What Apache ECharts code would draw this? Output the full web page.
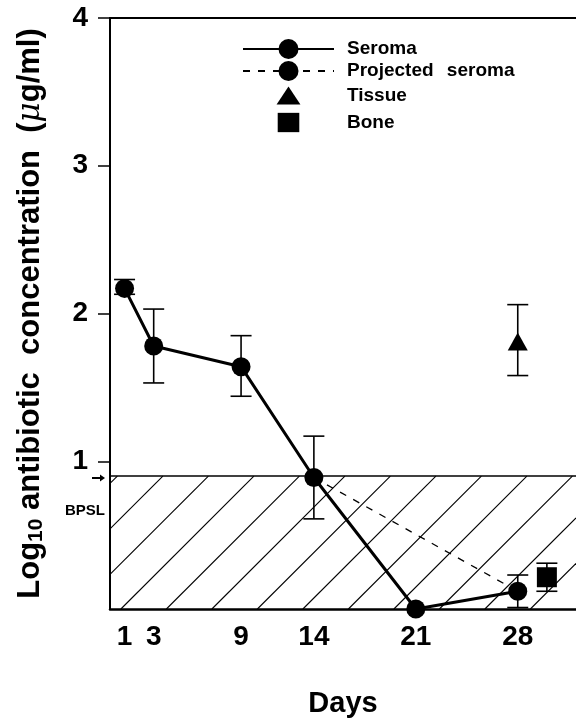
<!DOCTYPE html>
<html><head><meta charset="utf-8">
<script src="https://cdn.jsdelivr.net/npm/echarts@6/dist/echarts.min.js"></script>
<style>html,body{margin:0;padding:0;background:#fff}#c{width:576px;height:723px}</style>
</head><body><div id="c"></div>
<script>
// ---- data ----
const days = [1, 3, 9, 14, 21, 28];
const seroma = [2.17, 1.78, 1.64, 0.89, 0.0, 0.12];
const seromaLow = [2.13, 1.53, 1.44, 0.61, null, 0.01];
const seromaHigh = [2.23, 2.03, 1.85, 1.17, null, 0.23];
const projectedDays = [14, 28];
const projected = [0.89, 0.12];
const tissueDays = [28];
const tissue = [1.81];
const tissueLow = [1.58];
const tissueHigh = [2.06];
const boneDays = [30];
const bone = [0.215];
const boneLow = [0.12];
const boneHigh = [0.31];
const bpsl = 0.9;
const xTicks = [1, 3, 9, 14, 21, 28];
const yTicks = [1, 2, 3, 4];
const xRange = [0, 32];
const yRange = [0, 4];

const FONT = '"Liberation Sans", Arial, Helvetica, sans-serif';
// legend icons (padded 22x22 boxes so they keep a natural size)
const TRI_ICON = 'path://M0,0M22,22M0.5,19L11,3L21.5,19Z';
const SQ_ICON = 'path://M0,0M22,22M1.5,2.5H20.5V19.5H1.5Z';

function errData(xs, lo, hi) {
  const out = [];
  xs.forEach((x, i) => { if (lo[i] != null && hi[i] != null) out.push([x, lo[i], hi[i]]); });
  return out;
}
function renderErr(params, api) {
  const x = api.value(0);
  const p1 = api.coord([x, api.value(1)]);
  const p2 = api.coord([x, api.value(2)]);
  const hw = 10.5;
  const st = { stroke: '#000', lineWidth: 1.6 };
  return { type: 'group', children: [
    { type: 'line', shape: { x1: p1[0], y1: p1[1], x2: p2[0], y2: p2[1] }, style: st },
    { type: 'line', shape: { x1: p1[0] - hw, y1: p1[1], x2: p1[0] + hw, y2: p1[1] }, style: st },
    { type: 'line', shape: { x1: p2[0] - hw, y1: p2[1], x2: p2[0] + hw, y2: p2[1] }, style: st }
  ]};
}
function renderHatch(params, api) {
  const tl = api.coord([api.value(0), api.value(3)]);
  const br = api.coord([api.value(1), api.value(2)]);
  const L = tl[0], T = tl[1], R = br[0], B = br[1], H = B - T;
  const step = 45.5, phase = 10.9;
  const children = [];
  for (let c = L + phase - Math.ceil(H / step + 1) * step; c < R; c += step) {
    let x1 = c, y1 = B, x2 = c + H, y2 = T;
    if (x1 < L) { y1 = B - (L - c); x1 = L; }
    if (x2 > R) { y2 = B - (R - c); x2 = R; }
    if (x1 >= x2) continue;
    children.push({ type: 'line', shape: { x1, y1, x2, y2 }, style: { stroke: '#000', lineWidth: 1.1 } });
  }
  children.push({ type: 'line', shape: { x1: L, y1: T, x2: R, y2: T }, style: { stroke: '#000', lineWidth: 1.6 } });
  return { type: 'group', children };
}

const chart = echarts.init(document.getElementById('c'), null, { renderer: 'canvas' });
const option = {
  animation: false,
  backgroundColor: '#fff',
  textStyle: { fontFamily: FONT, color: '#000' },
  grid: { left: 110, right: 0, top: 18, bottom: 114, containLabel: false },
  legend: {
    orient: 'vertical', left: 242, top: 39, padding: 0,
    itemWidth: 91, itemHeight: 25, itemGap: 2, symbolKeepAspect: true,
    formatter: function (name) {
      const parts = name.split(' ');
      if (parts.length === 2) return '{w|' + parts[0] + ' }{v|' + parts[1] + '}';
      return '{w|' + name + '}';
    },
    textStyle: {
      fontFamily: FONT, fontWeight: 'bold', fontSize: 19, color: '#000', padding: [0, 0, 0, 8],
      rich: {
        w: { fontFamily: FONT, fontWeight: 'bold', fontSize: 19, color: '#000' },
        v: { fontFamily: FONT, fontWeight: 'bold', fontSize: 19, color: '#000', padding: [0, 0, 0, 8] }
      }
    },
    data: [
      { name: 'Seroma' },
      { name: 'Projected seroma' },
      { name: 'Tissue', icon: TRI_ICON },
      { name: 'Bone', icon: SQ_ICON }
    ]
  },
  xAxis: [{
    type: 'value', min: xRange[0], max: xRange[1],
    name: 'Days', nameLocation: 'middle', nameGap: 80,
    nameTextStyle: { fontFamily: FONT, fontWeight: 'bold', fontSize: 29, color: '#000' },
    axisLine: { show: true, onZero: false, lineStyle: { color: '#000', width: 2.5 } },
    axisTick: { show: false },
    splitLine: { show: false },
    axisLabel: { customValues: xTicks, margin: 14, fontFamily: FONT, fontWeight: 'bold', fontSize: 28, color: '#000' }
  }, {
    type: 'value', min: xRange[0], max: xRange[1], position: 'top',
    axisLine: { show: true, onZero: false, lineStyle: { color: '#000', width: 2 } },
    axisTick: { show: false }, axisLabel: { show: false }, splitLine: { show: false }
  }],
  yAxis: {
    type: 'value', min: yRange[0], max: yRange[1], interval: 1,
    name: '{b|Log}{s|10}{b| antibiotic  concentration  (}{m|μ}{b|g/ml)}',
    nameLocation: 'middle', nameRotate: 90, nameGap: 63,
    nameTextStyle: {
      rich: {
        b: { fontFamily: FONT, fontWeight: 'bold', fontSize: 31, lineHeight: 33, color: '#000' },
        s: { fontFamily: FONT, fontWeight: 'bold', fontSize: 21, lineHeight: 24, verticalAlign: 'bottom', color: '#000' },
        m: { fontFamily: '"DejaVu Serif", serif', fontStyle: 'italic', fontSize: 31, lineHeight: 33, color: '#000' }
      }
    },
    axisLine: { show: true, onZero: false, lineStyle: { color: '#000', width: 2 } },
    axisTick: { show: true, customValues: yTicks, length: 12, lineStyle: { color: '#000', width: 1.5 } },
    splitLine: { show: false },
    axisLabel: { customValues: yTicks, margin: 22, fontFamily: FONT, fontWeight: 'bold', fontSize: 28, color: '#000' }
  },
  series: [
    {
      name: 'hatch', type: 'custom', silent: true, z: 1,
      renderItem: renderHatch, encode: { x: [0, 1], y: [2, 3] },
      data: [[xRange[0], xRange[1], yRange[0], bpsl]]
    },
    {
      name: 'Projected seroma', type: 'line', z: 3,
      data: projectedDays.map((d, i) => [d, projected[i]]),
      symbol: 'circle', symbolSize: 19, showSymbol: false,
      lineStyle: { color: '#000', width: 1.3, type: [7, 8] },
      itemStyle: { color: '#000' }
    },
    {
      name: 'Seroma', type: 'line', z: 4,
      data: days.map((d, i) => [d, seroma[i]]),
      symbol: 'circle', symbolSize: 19, clip: false,
      lineStyle: { color: '#000', width: 3 },
      itemStyle: { color: '#000' }
    },
    {
      name: 'Tissue', type: 'scatter', z: 4,
      data: tissueDays.map((d, i) => [d, tissue[i]]),
      symbol: 'triangle', symbolSize: [20, 18],
      itemStyle: { color: '#000', opacity: 1 }
    },
    {
      name: 'Bone', type: 'scatter', z: 4,
      data: boneDays.map((d, i) => [d, bone[i]]),
      symbol: 'rect', symbolSize: 20,
      itemStyle: { color: '#000', opacity: 1 }
    },
    { name: 'errSeroma', type: 'custom', z: 3, silent: true, renderItem: renderErr, encode: { x: 0, y: [1, 2] }, data: errData(days, seromaLow, seromaHigh) },
    { name: 'errTissue', type: 'custom', z: 3, silent: true, renderItem: renderErr, encode: { x: 0, y: [1, 2] }, data: errData(tissueDays, tissueLow, tissueHigh) },
    { name: 'errBone', type: 'custom', z: 3, silent: true, renderItem: renderErr, encode: { x: 0, y: [1, 2] }, data: errData(boneDays, boneLow, boneHigh) }
  ]
};
chart.setOption(option);

const p = chart.convertToPixel({ xAxisIndex: 0, yAxisIndex: 0 }, [xRange[0], bpsl]);
chart.setOption({
  graphic: [
    { type: 'line', shape: { x1: p[0] - 18, y1: p[1] + 2, x2: p[0] - 9, y2: p[1] + 2 }, style: { stroke: '#000', lineWidth: 2 } },
    { type: 'polygon', shape: { points: [[p[0] - 10, p[1] - 1.5], [p[0] - 5, p[1] + 2], [p[0] - 10, p[1] + 5.5]] }, style: { fill: '#000' } },
    { type: 'text', x: p[0] - 5, y: p[1] + 35, style: { text: 'BPSL', fill: '#000', font: 'bold 15px ' + FONT, align: 'right', verticalAlign: 'middle' } }
  ]
});
</script>
</body></html>
